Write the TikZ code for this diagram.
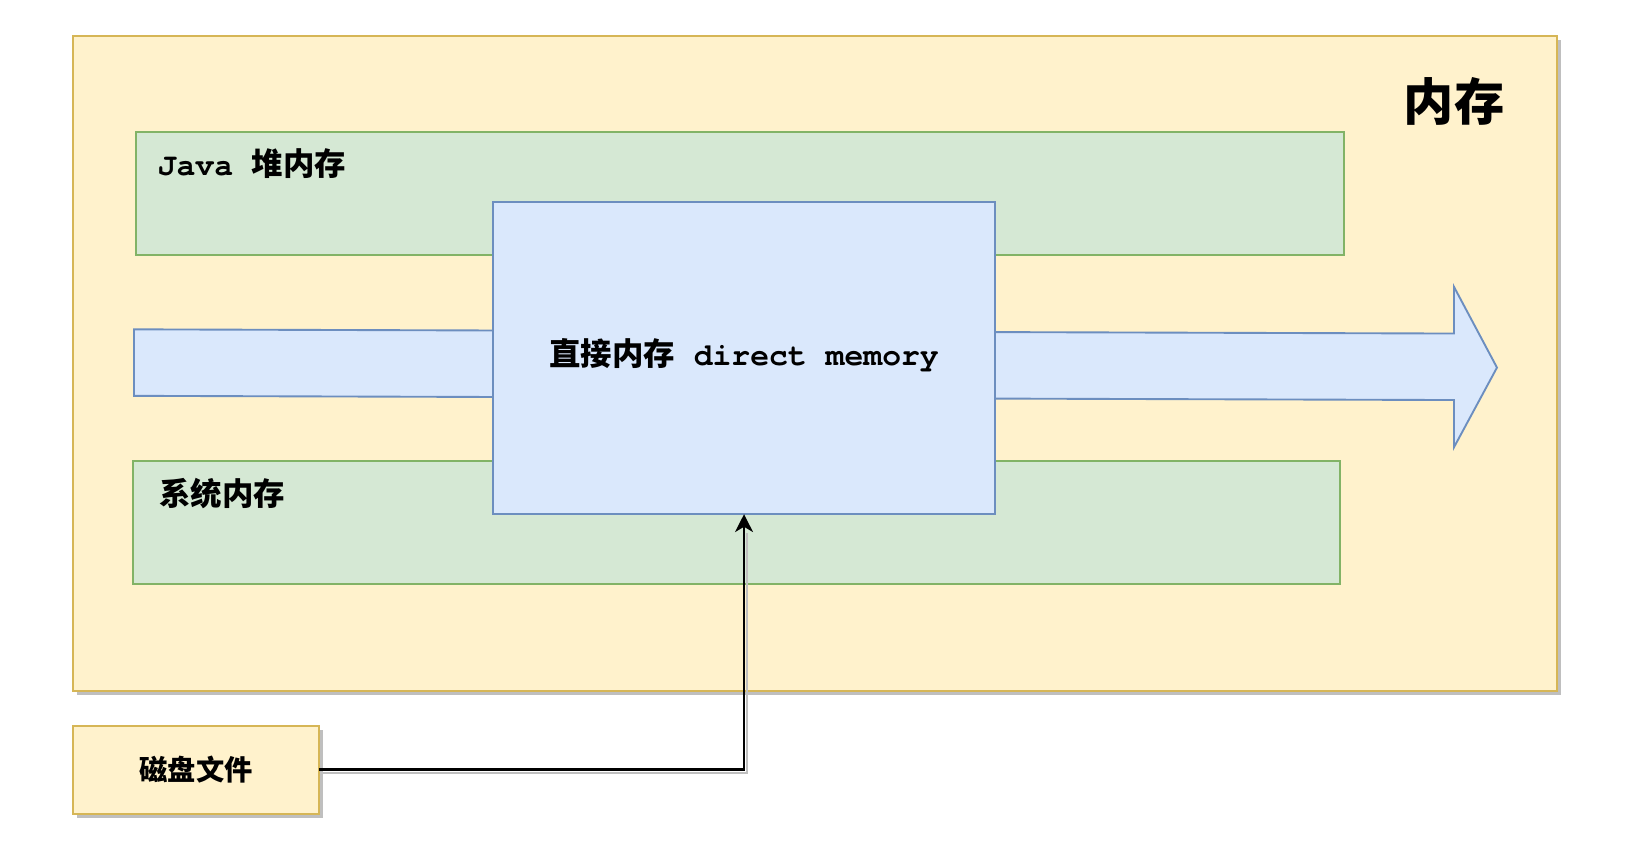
\documentclass[tikz,border=0pt]{standalone}
\usepackage{fontspec}
\newfontfamily\cjk{Noto Sans CJK SC}
\newfontfamily\monob{TeX Gyre Cursor}
\usetikzlibrary{arrows.meta,shadows}
\definecolor{ylwfill}{HTML}{FFF2CC}
\definecolor{ylwdraw}{HTML}{D6B656}
\definecolor{grnfill}{HTML}{D5E8D4}
\definecolor{grndraw}{HTML}{82B366}
\definecolor{blufill}{HTML}{DAE8FC}
\definecolor{bludraw}{HTML}{6C8EBF}
\definecolor{shadowgray}{HTML}{BFBFBF}
\begin{document}
\begin{tikzpicture}[x=1pt,y=-1pt,
  box/.style={rectangle, inner sep=0pt, outer sep=0pt, line width=2pt, anchor=north west},
  ylwbox/.style={box, fill=ylwfill, draw=ylwdraw,
    drop shadow={shadow xshift=4pt, shadow yshift=-4pt, fill=shadowgray, opacity=1}},
  grnbox/.style={box, fill=grnfill, draw=grndraw},
  blubox/.style={box, fill=blufill, draw=bludraw},
  lbl/.style={inner sep=0pt, outer sep=0pt, text=black, font=\bfseries},
  conn/.style={line width=2.5pt, draw=black, -{Stealth[length=17pt, width=17pt, inset=5pt]}},
  connshadow/.style={line width=2.5pt, draw=shadowgray, shorten >=15pt},
  bigarrow/.style={fill=blufill, draw=bludraw, line width=1.8pt, line join=miter}
]
\useasboundingbox (0,0) rectangle (1568,809);
\fill[white] (0,0) rectangle (1568,809);

% outer memory box
\node[ylwbox, minimum width=1417pt, minimum height=625pt] (mem) at (69.5,34.5) {};
\node[lbl, font=\bfseries\fontsize{48}{56}\selectfont] (memlbl) at (1388.5,96.5) {\cjk 内存};

% heap and system memory
\node[grnbox, minimum width=1153pt, minimum height=117.5pt] (heap) at (130,126) {};
\node[lbl, anchor=west, font=\bfseries\fontsize{30}{36}\selectfont] (heaplbl) at (150.6,156.3) {\monob Java \cjk 堆内存};
\node[grnbox, minimum width=1153pt, minimum height=117.5pt] (sys) at (127,440) {};
\node[lbl, anchor=west, font=\bfseries\fontsize{30}{36}\selectfont] (syslbl) at (152,471) {\cjk 系统内存};

% big flow arrow
\coordinate (arrL1) at (128,314.5);
\coordinate (arrR1) at (1388.5,318.5);
\coordinate (arrH1) at (1388.5,274);
\coordinate (arrTip) at (1429.5,351);
\coordinate (arrH2) at (1388.5,427);
\coordinate (arrR2) at (1388.5,382);
\coordinate (arrL2) at (128,378);
\draw[bigarrow] (arrL1) -- (arrR1) -- (arrH1) -- (arrTip) -- (arrH2) -- (arrR2) -- (arrL2) -- cycle;

% direct memory
\node[blubox, minimum width=479pt, minimum height=298pt] (direct) at (471,193) {};
\node[lbl, font=\bfseries\fontsize{30}{36}\selectfont] (directlbl) at (710.5,339) {{\cjk 直接内存}\monob\ direct memory};

% disk file
\node[ylwbox, minimum width=234.5pt, minimum height=84pt] (disk) at (70,693) {};
\node[lbl, font=\bfseries\fontsize{27}{32}\selectfont] (disklbl) at (disk.center) {\cjk 磁盘文件};

% connector
\draw[connshadow, transform canvas={shift={(3pt,-3pt)}}] (disk.east) -| (direct.south);
\draw[conn] (disk.east) -| (direct.south);
\end{tikzpicture}
\end{document}
